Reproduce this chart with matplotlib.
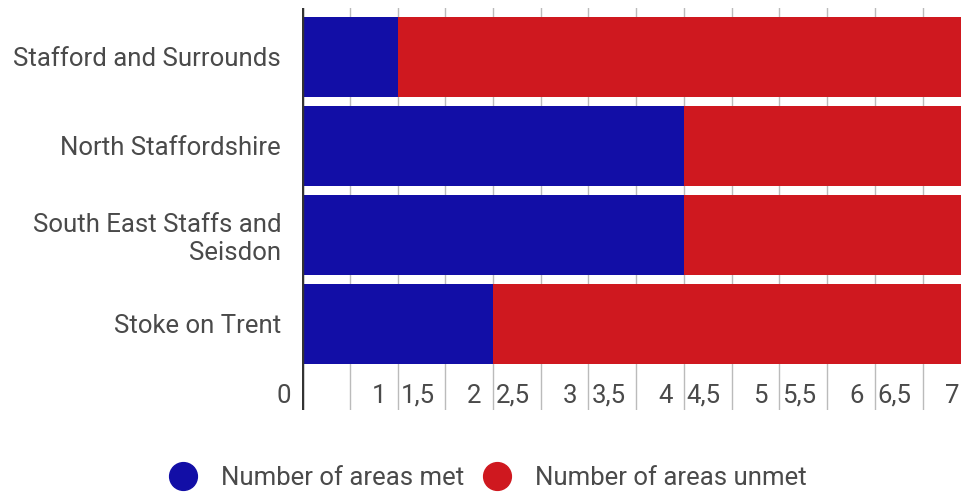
import matplotlib
matplotlib.use("Agg")
import matplotlib.pyplot as plt
from matplotlib.lines import Line2D
import matplotlib.transforms as mtransforms

plt.rcParams['font.family'] = ['Roboto', 'DejaVu Sans']

# data
regions = ["Stafford and Surrounds", "North Staffordshire",
           "South East Staffs and\nSeisdon", "Stoke on Trent"]
areas_met = [1, 4, 4, 2]
areas_unmet = [6, 3, 3, 5]
tick_values = [0, 0.5, 1, 1.5, 2, 2.5, 3, 3.5, 4, 4.5, 5, 5.5, 6, 6.5, 7]
tick_labels = ["0", "", "1", "1,5", "2", "2,5", "3", "3,5", "4", "4,5",
               "5", "5,5", "6", "6,5", "7"]
series_names = ["Number of areas met", "Number of areas unmet"]

blue = "#120ea6"
red = "#cf181f"
grey_text = "#4a4a4a"
fs = 18.5

W, H = 961, 496
fig = plt.figure(figsize=(W / 100, H / 100), dpi=100)
ax = fig.add_axes([302 / W, 1 - 410 / H, 668.5 / W, 402 / H])

ypos = list(range(len(regions)))
ax.barh(ypos, areas_met, height=0.9, color=blue, zorder=2)
ax.barh(ypos, areas_unmet, left=areas_met, height=0.9, color=red, zorder=2)

ax.set_xlim(0, 7)
ax.set_ylim(len(regions) - 1 + 0.97, -0.55)

# vertical gridlines behind the bars
for v in tick_values[1:]:
    ax.axvline(v, color="#bbbbbb", lw=1, zorder=1)
ax.axvline(0, color="#333333", lw=2.5, zorder=3)

for s in ax.spines.values():
    s.set_visible(False)
ax.set_xticks([])
ax.set_yticks(ypos)
ax.set_yticklabels(regions, fontsize=fs, color=grey_text, linespacing=1.2)
ax.tick_params(axis="y", length=0, pad=15)

# x tick labels, in the odd offset layout of the source chart
trans = mtransforms.blended_transform_factory(ax.transData, fig.transFigure)
for v, txt in zip(tick_values, tick_labels):
    if v == int(v):
        ax.text(v - 0.12, 1 - 396 / H, txt, transform=trans, ha="right",
                va="center", fontsize=fs, color=grey_text)
    else:
        ax.text(v - 0.47, 1 - 396 / H, txt, transform=trans, ha="left",
                va="center", fontsize=fs, color=grey_text)

handles = [Line2D([], [], marker="o", ls="", markersize=20, color=c)
           for c in (blue, red)]
fig.legend(handles, series_names, loc="center", bbox_to_anchor=(487 / W, 1 - 478 / H),
           ncol=2, frameon=False, fontsize=fs, labelcolor=grey_text,
           handletextpad=0.86, columnspacing=0.7, handlelength=1.2)

fig.savefig("out.png", dpi=100)
